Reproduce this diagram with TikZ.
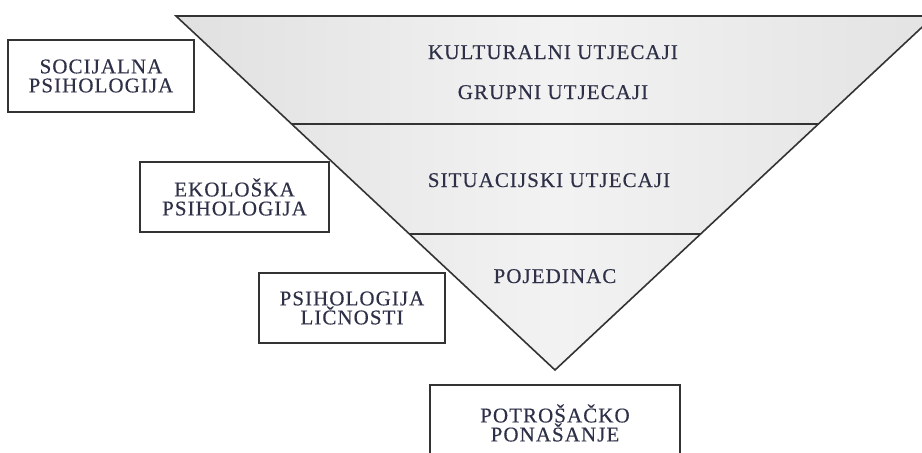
\documentclass[tikz,border=0pt]{standalone}
\usepackage{fontspec}
\setmainfont{Liberation Serif}
\newfontfamily\capsfont[LetterSpace=5,FakeBold=0.35]{Liberation Serif}
\usetikzlibrary{
  calc
}
\definecolor{ink}{RGB}{45,48,70}
\tikzset{
  layer/.style={
    draw=black!80,
    line width=0.8pt
  },
  layer text/.style={
    font=\capsfont\fontsize{10.5}{9.5}\selectfont,
    text=ink,
    anchor=base
  },
  field box/.style={
    draw=black!80,
    line width=0.8pt,
    fill=white,
    align=center,
    inner sep=0pt,
    font=\capsfont\fontsize{10.5}{9.5}\selectfont,
    text=ink
  }
}

\begin{document}
\begin{tikzpicture}[x=0.5pt,y=-0.5pt]
\clip (0,0) rectangle (922,452);
\coordinate (tl) at (176,16);
\coordinate (tr) at (934,16);
\coordinate (apex) at (555,370);
\coordinate (l1) at ($(tl)!0.305!(apex)$);
\coordinate (r1) at ($(tr)!0.305!(apex)$);
\coordinate (l2) at ($(tl)!0.616!(apex)$);
\coordinate (r2) at ($(tr)!0.616!(apex)$);
% layers
\shade[left color=gray!24, right color=gray!22, middle color=gray!10]
  (tl) -- (tr) -- (apex) -- cycle;
\draw[layer] (tl) -- (tr) -- (apex) -- cycle;
\draw[layer] (l1) -- (r1);
\draw[layer] (l2) -- (r2);
\node[layer text] (kult) at (553,59) {KULTURALNI UTJECAJI};
\node[layer text] (grup) at (553,99) {GRUPNI UTJECAJI};
\node[layer text] (situ) at (549,187) {SITUACIJSKI UTJECAJI};
\node[layer text] (poj) at (555,283) {POJEDINAC};
% fields
\node[field box, minimum width=93pt, minimum height=36pt] (soc) at (101,76)
  {SOCIJALNA\\PSIHOLOGIJA};
\node[field box, minimum width=94.5pt, minimum height=35pt] (eko) at (234.5,197)
  {EKOLOŠKA\\PSIHOLOGIJA};
\node[field box, minimum width=93pt, minimum height=35pt] (lic) at (352,308)
  {PSIHOLOGIJA\\LIČNOSTI};
\node[field box, minimum width=125pt, minimum height=38pt] (potr) at (555,423)
  {POTROŠAČKO\\PONAŠANJE};
\end{tikzpicture}
\end{document}
